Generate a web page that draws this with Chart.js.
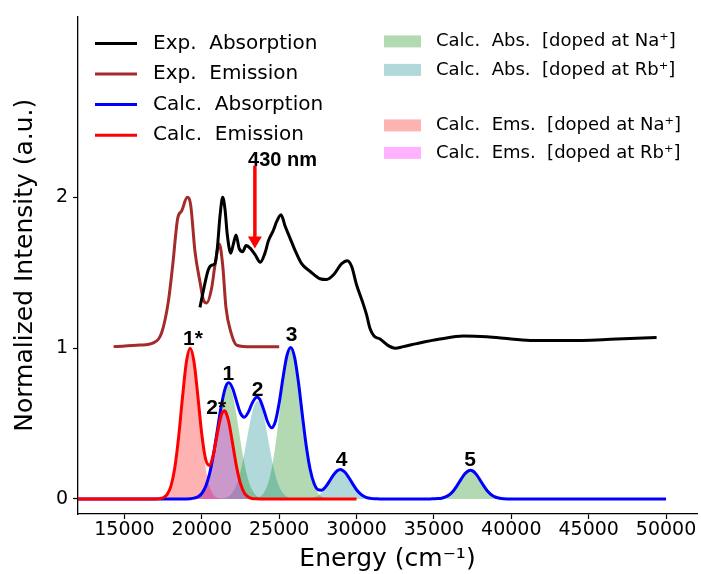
<!DOCTYPE html>
<html>
<head>
<meta charset="utf-8">
<script src="https://cdn.jsdelivr.net/npm/chart.js@4"></script>
<style>
  html, body { margin: 0; padding: 0; background: #fff; }
</style>
</head>
<body>
<canvas id="graph1" width="701" height="574"></canvas>
<script>
// experimental spectra (cm-1, normalized + offset 1)
const expAbsX = [19880, 20140, 20420, 20640, 20850, 21000, 21180, 21350, 21500, 21650, 21870, 22040, 22210, 22420, 22640, 22860, 23150, 23440, 23780, 24080, 24300, 24620, 24840, 25120, 25380, 25700, 26020, 26450, 26990, 27640, 28070, 28500, 29040, 29400, 29690, 30000, 30440, 30650, 30870, 31130, 31520, 32000, 32500, 33020, 33890, 35390, 36900, 38410, 40000, 41420, 43580, 46810, 49390];
const expAbsY = [1.27, 1.40, 1.52, 1.55, 1.56, 1.66, 1.88, 2.00, 1.92, 1.75, 1.63, 1.69, 1.75, 1.66, 1.64, 1.68, 1.66, 1.62, 1.57, 1.63, 1.71, 1.78, 1.84, 1.885, 1.81, 1.73, 1.65, 1.56, 1.51, 1.46, 1.455, 1.485, 1.56, 1.58, 1.54, 1.42, 1.29, 1.22, 1.13, 1.08, 1.06, 1.02, 1.00, 1.01, 1.03, 1.06, 1.08, 1.075, 1.06, 1.05, 1.05, 1.06, 1.07];
const expEmsX = [14300, 16000, 16870, 17400, 17840, 18120, 18440, 18700, 19060, 19280, 19560, 19880, 20140, 20320, 20640, 20850, 21130, 21350, 21560, 21870, 22250, 22900, 25000];
const expEmsY = [1.01, 1.02, 1.035, 1.10, 1.31, 1.55, 1.86, 1.91, 2.00, 1.95, 1.64, 1.44, 1.31, 1.30, 1.40, 1.55, 1.69, 1.55, 1.27, 1.11, 1.02, 1.01, 1.01];

// calculated spectra
const absX = [12000, 18500, 18750, 19000, 19250, 19500, 19750, 20000, 20250, 20500, 20750, 21000, 21250, 21500, 21700, 21750, 22000, 22250, 22500, 22750, 23000, 23250, 23500, 23600, 23750, 24000, 24250, 24500, 24750, 25000, 25250, 25500, 25750, 26000, 26250, 26500, 26750, 27000, 27250, 27500, 27750, 28000, 28250, 28500, 28750, 28950, 29000, 29250, 29500, 29750, 30000, 30250, 30500, 30750, 31000, 31250, 31500, 34500, 34750, 35000, 35250, 35500, 35750, 36000, 36250, 36500, 36750, 37000, 37250, 37350, 37500, 37750, 38000, 38250, 38500, 38750, 39000, 39250, 39500, 39750, 50000];
const absY = [0, 0, 0, 0, 0.001, 0.005, 0.014, 0.036, 0.083, 0.166, 0.293, 0.452, 0.612, 0.730, 0.770, 0.771, 0.731, 0.646, 0.568, 0.542, 0.574, 0.634, 0.673, 0.675, 0.659, 0.592, 0.512, 0.472, 0.512, 0.637, 0.806, 0.951, 1.005, 0.938, 0.770, 0.554, 0.351, 0.197, 0.104, 0.062, 0.058, 0.080, 0.118, 0.158, 0.187, 0.195, 0.194, 0.177, 0.142, 0.100, 0.061, 0.033, 0.016, 0.006, 0.002, 0.001, 0, 0, 0, 0.001, 0.002, 0.005, 0.013, 0.028, 0.053, 0.089, 0.130, 0.167, 0.188, 0.190, 0.186, 0.161, 0.122, 0.081, 0.047, 0.024, 0.011, 0.004, 0.001, 0, 0];
const emsX = [12000, 16500, 16750, 17000, 17250, 17500, 17750, 18000, 18250, 18500, 18750, 19000, 19250, 19500, 19750, 20000, 20250, 20500, 20750, 21000, 21250, 21450, 21500, 21750, 22000, 22250, 22500, 22750, 23000, 23250, 23500, 23750, 30000];
const emsY = [0, 0, 0, 0, 0.002, 0.008, 0.028, 0.083, 0.203, 0.408, 0.671, 0.905, 1.000, 0.907, 0.677, 0.428, 0.262, 0.222, 0.296, 0.431, 0.551, 0.585, 0.583, 0.507, 0.361, 0.211, 0.101, 0.040, 0.013, 0.003, 0.001, 0, 0];

// individual bands
const absNa1X = [19200, 19450, 19700, 19950, 20200, 20450, 20700, 20950, 21200, 21450, 21700, 21950, 22200, 22450, 22700, 22950, 23200, 23450, 23700, 23950, 24200];
const absNa1Y = [0, 0.004, 0.011, 0.030, 0.071, 0.146, 0.264, 0.418, 0.581, 0.707, 0.755, 0.707, 0.581, 0.418, 0.264, 0.146, 0.071, 0.030, 0.011, 0.004, 0];
const absRb2X = [21100, 21350, 21600, 21850, 22100, 22350, 22600, 22850, 23100, 23350, 23600, 23850, 24100, 24350, 24600, 24850, 25100, 25350, 25600, 25850, 26100];
const absRb2Y = [0, 0.003, 0.010, 0.026, 0.061, 0.126, 0.227, 0.360, 0.500, 0.609, 0.650, 0.609, 0.500, 0.360, 0.227, 0.126, 0.061, 0.026, 0.010, 0.003, 0];
const absNa3X = [23250, 23500, 23750, 24000, 24250, 24500, 24750, 25000, 25250, 25500, 25750, 26000, 26250, 26500, 26750, 27000, 27250, 27500, 27750, 28000, 28250];
const absNa3Y = [0, 0.005, 0.015, 0.040, 0.094, 0.194, 0.350, 0.554, 0.769, 0.937, 1.000, 0.937, 0.769, 0.554, 0.350, 0.194, 0.094, 0.040, 0.015, 0.005, 0];
const absRb4X = [26450, 26700, 26950, 27200, 27450, 27700, 27950, 28200, 28450, 28700, 28950, 29200, 29450, 29700, 29950, 30200, 30450, 30700, 30950, 31200, 31450];
const absRb4Y = [0, 0.001, 0.003, 0.008, 0.018, 0.038, 0.068, 0.108, 0.150, 0.183, 0.195, 0.183, 0.150, 0.108, 0.068, 0.038, 0.018, 0.008, 0.003, 0.001, 0];
const absNa5X = [34850, 35100, 35350, 35600, 35850, 36100, 36350, 36600, 36850, 37100, 37350, 37600, 37850, 38100, 38350, 38600, 38850, 39100, 39350, 39600, 39850];
const absNa5Y = [0, 0.001, 0.003, 0.008, 0.018, 0.037, 0.066, 0.105, 0.146, 0.178, 0.190, 0.178, 0.146, 0.105, 0.066, 0.037, 0.018, 0.008, 0.003, 0.001, 0];
const emsNa1X = [16750, 17000, 17250, 17500, 17750, 18000, 18250, 18500, 18750, 19000, 19250, 19500, 19750, 20000, 20250, 20500, 20750, 21000, 21250, 21500, 21750];
const emsNa1Y = [0, 0, 0.002, 0.008, 0.028, 0.083, 0.203, 0.408, 0.671, 0.905, 1.000, 0.905, 0.671, 0.408, 0.203, 0.083, 0.028, 0.008, 0.002, 0, 0];
const emsRb2X = [18950, 19200, 19450, 19700, 19950, 20200, 20450, 20700, 20950, 21200, 21450, 21700, 21950, 22200, 22450, 22700, 22950, 23200, 23450, 23700, 23950];
const emsRb2Y = [0, 0, 0.001, 0.004, 0.016, 0.048, 0.119, 0.239, 0.393, 0.530, 0.585, 0.530, 0.393, 0.239, 0.119, 0.048, 0.016, 0.004, 0.001, 0, 0];

// ticks and labels
const xTicks = [15000, 20000, 25000, 30000, 35000, 40000, 45000, 50000];
const yTicks = [0, 1, 2];
const lineLabels = ['Exp.  Absorption', 'Exp.  Emission', 'Calc.  Absorption', 'Calc.  Emission'];
const bandLabels = ['Calc.  Abs.  [doped at Na\u207A]', 'Calc.  Abs.  [doped at Rb\u207A]', 'Calc.  Ems.  [doped at Na\u207A]', 'Calc.  Ems.  [doped at Rb\u207A]'];
const peakLabels = ['1*', '1', '2*', '2', '3', '4', '5'];
const peakLabelX = [19430, 21710, 20930, 23610, 25810, 29040, 37330];
const peakLabelY = [1.02, 0.79, 0.56, 0.68, 1.05, 0.22, 0.22];
const arrowX = 23430, arrowFrom = 2.21, arrowTo = 1.66;
const arrowText = '430 nm', arrowTextX = 25215, arrowTextY = 2.21;

const lineColors = ['#000000', '#a52a2a', '#0000ff', '#ff0000'];
const bandColors = ['rgba(0,128,0,0.3)', 'rgba(0,128,128,0.3)', 'rgba(255,0,0,0.3)', 'rgba(255,0,255,0.3)'];

const pts = (xs, ys) => xs.map((v, i) => ({x: v, y: ys[i]}));

const lineSet = (xs, ys, color, order) => ({
  data: pts(xs, ys),
  borderColor: color,
  borderWidth: 3,
  pointRadius: 0,
  fill: false,
  cubicInterpolationMode: 'monotone',
  order: order,
});
const bandSet = (xs, ys, color) => ({
  data: pts(xs, ys),
  borderColor: 'transparent',
  borderWidth: 0,
  backgroundColor: color,
  pointRadius: 0,
  fill: 'origin',
  cubicInterpolationMode: 'monotone',
  order: 5,
});

const extras = {
  id: 'extras',
  afterDatasetsDraw(chart) {
    const {ctx, chartArea: a, scales: {x, y}} = chart;
    ctx.save();
    ctx.fillStyle = '#000';
    ctx.font = 'bold 21px "Liberation Sans", Arial, sans-serif';
    ctx.textAlign = 'center';
    ctx.textBaseline = 'alphabetic';
    peakLabels.forEach((t, i) => {
      ctx.fillText(t, x.getPixelForValue(peakLabelX[i]), y.getPixelForValue(peakLabelY[i]));
    });
    ctx.font = 'bold 20px "Liberation Sans", Arial, sans-serif';
    ctx.fillText(arrowText, x.getPixelForValue(arrowTextX), y.getPixelForValue(arrowTextY));

    // red arrow
    const ax = x.getPixelForValue(arrowX);
    const y0 = y.getPixelForValue(arrowFrom);
    const y1 = y.getPixelForValue(arrowTo);
    ctx.strokeStyle = '#ff0000';
    ctx.fillStyle = '#ff0000';
    ctx.lineWidth = 3.5;
    ctx.beginPath();
    ctx.moveTo(ax, y0);
    ctx.lineTo(ax, y1 - 11);
    ctx.stroke();
    ctx.beginPath();
    ctx.moveTo(ax - 7, y1 - 12);
    ctx.lineTo(ax + 7, y1 - 12);
    ctx.lineTo(ax, y1);
    ctx.closePath();
    ctx.fill();

    // legend for lines
    ctx.textAlign = 'left';
    ctx.textBaseline = 'middle';
    ctx.font = '20px "DejaVu Sans"';
    lineLabels.forEach((t, i) => {
      const ry = a.top + 27 + i * 30.6;
      ctx.strokeStyle = lineColors[i];
      ctx.lineWidth = 3;
      ctx.beginPath();
      ctx.moveTo(a.left + 17, ry);
      ctx.lineTo(a.left + 59, ry);
      ctx.stroke();
      ctx.fillStyle = '#000';
      ctx.fillText(t, a.left + 75, ry);
    });

    // legend for bands
    ctx.font = '18px "DejaVu Sans"';
    const rows = [25, 53.5, 109, 136.5];
    bandLabels.forEach((t, i) => {
      const ry = a.top + rows[i];
      ctx.fillStyle = bandColors[i];
      ctx.fillRect(a.left + 306, ry - 6, 37, 12);
      ctx.fillStyle = '#000';
      ctx.fillText(t, a.left + 358, ry);
    });
    ctx.restore();
  }
};

new Chart(document.getElementById('graph1'), {
  type: 'line',
  data: {
    datasets: [
      lineSet(emsX, emsY, lineColors[3], 0),
      lineSet(absX, absY, lineColors[2], 1),
      lineSet(expAbsX, expAbsY, lineColors[0], 2),
      lineSet(expEmsX, expEmsY, lineColors[1], 3),
      bandSet(emsRb2X, emsRb2Y, bandColors[3]),
      bandSet(emsNa1X, emsNa1Y, bandColors[2]),
      bandSet(absNa1X, absNa1Y, bandColors[0]),
      bandSet(absRb2X, absRb2Y, bandColors[1]),
      bandSet(absNa3X, absNa3Y, bandColors[0]),
      bandSet(absRb4X, absRb4Y, bandColors[1]),
      bandSet(absNa5X, absNa5Y, bandColors[0]),
    ],
  },
  options: {
    responsive: false,
    animation: false,
    layout: { padding: { left: 10, top: 12, right: 4, bottom: 0 } },
    plugins: { legend: { display: false }, tooltip: { enabled: false } },
    scales: {
      x: {
        type: 'linear',
        min: 12000,
        max: 52000,
        afterBuildTicks: s => { s.ticks = xTicks.map(v => ({value: v})); },
        afterFit: s => { s.height = 60; },
        ticks: { color: '#000', font: { family: 'DejaVu Sans', size: 19 }, padding: 0, maxRotation: 0, callback: v => String(v) },
        grid: { drawOnChartArea: false, tickLength: 5, tickColor: '#000', tickWidth: 1.2 },
        border: { color: '#000', width: 1.3 },
        title: { display: true, text: 'Energy (cm\u207B\u00B9)', color: '#000', font: { family: 'DejaVu Sans', size: 25 }, padding: 0 },
      },
      y: {
        min: -0.1,
        max: 3.2,
        afterBuildTicks: s => { s.ticks = yTicks.map(v => ({value: v})); },
        afterFit: s => { s.width = 68; },
        ticks: { color: '#000', font: { family: 'DejaVu Sans', size: 19 }, padding: 5 },
        grid: { drawOnChartArea: false, tickLength: 5, tickColor: '#000', tickWidth: 1.2 },
        border: { color: '#000', width: 1.3 },
        title: { display: true, text: 'Normalized Intensity (a.u.)', color: '#000', font: { family: 'DejaVu Sans', size: 25 }, padding: 0 },
      },
    },
  },
  plugins: [extras],
});
</script>
</body>
</html>
